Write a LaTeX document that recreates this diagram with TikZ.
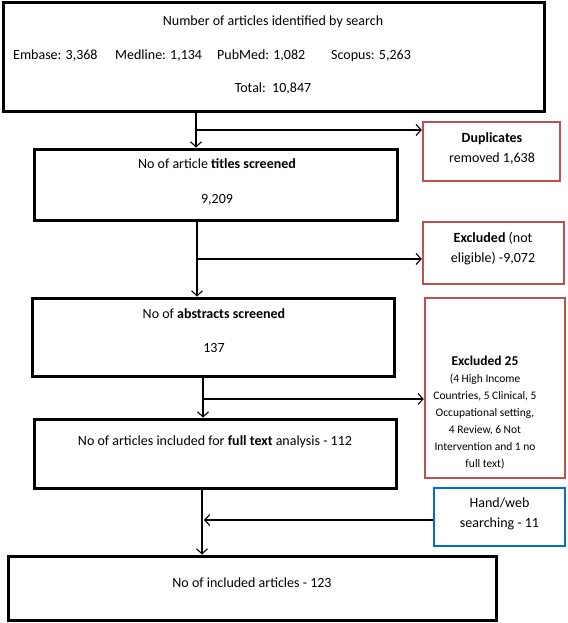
\documentclass[tikz,border=0pt]{standalone}
\usepackage{fontspec}
\setmainfont{Carlito}
\usetikzlibrary{arrows.meta}
\definecolor{exred}{HTML}{C0504D}
\definecolor{exblue}{HTML}{0070C0}
\tikzset{
  blackbox/.style={draw=black, line width=3pt, inner sep=0pt},
  redbox/.style={draw=exred, line width=2.5pt, inner sep=0pt},
  bluebox/.style={draw=exblue, line width=2.5pt, inner sep=0pt},
  txt/.style={align=center, inner sep=0pt},
  flow/.style={line width=1.1pt},
  flowarrow/.style={flow, -{Straight Barb[length=5pt,width=11pt]}}
}
\begin{document}
\begin{tikzpicture}[x=1pt, y=-1pt, font=\fontsize{14}{20}\selectfont]
\useasboundingbox (0,0) rectangle (567,623);
\node[blackbox, minimum width=541pt, minimum height=109pt] (search) at (273.5,57.5) {};
\node[txt] (search-title) at (273,22) {Number of articles identified by search};
\node[txt, anchor=west] (embase) at (13,56) {Embase: 3,368};
\node[txt, anchor=west] (medline) at (115,56) {Medline: 1,134};
\node[txt, anchor=west] (pubmed) at (217,56) {PubMed: 1,082};
\node[txt, anchor=west] (scopus) at (331,56) {Scopus: 5,263};
\node[txt] (total) at (273,89) {Total:\ \ 10,847};
\node[redbox, minimum width=137pt, minimum height=59pt] (dup) at (491.5,151.5) {};
\node[txt] (dup-t) at (492,148) {\textbf{Duplicates}\\removed 1,638};
\node[blackbox, minimum width=363pt, minimum height=71pt] (titles) at (215.5,184.5) {};
\node[txt] (titles-t) at (217,182) {No of article \textbf{titles screened}\\[15pt]9,209};
\node[redbox, minimum width=141pt, minimum height=62pt] (excl1) at (493.5,253) {};
\node[txt] (excl1-t) at (493,249) {\textbf{Excluded} (not\\eligible) -9,072};
\node[blackbox, minimum width=362pt, minimum height=78pt] (abstracts) at (213,337) {};
\node[txt] (abstracts-t) at (214,331) {No of \textbf{abstracts screened}\\[14pt]137};
\node[redbox, minimum width=140pt, minimum height=180pt] (excl2) at (495,388) {};
\node[txt, font=\fontsize{11.5}{17}\selectfont] (excl2-t) at (485,413) {{\fontsize{13.5}{17}\selectfont\bfseries Excluded 25}\\(4 High Income\\Countries, 5 Clinical, 5\\Occupational setting,\\4 Review, 6 Not\\Intervention and 1 no\\full text)};
\node[blackbox, minimum width=362pt, minimum height=69pt] (fulltext) at (215,453.5) {};
\node[txt] (fulltext-t) at (215,442) {No of articles included for \textbf{full text} analysis - 112};
\node[bluebox, minimum width=131pt, minimum height=58pt] (hand) at (499.5,517) {};
\node[txt] (hand-t) at (499.5,514) {Hand/web\\searching - 11};
\node[blackbox, minimum width=488pt, minimum height=64pt] (included) at (252,588) {};
\node[txt] (included-t) at (252,583) {No of included articles - 123};
\coordinate (j1) at (196,130);
\coordinate (j2) at (197,259);
\coordinate (j3) at (203,399);
\coordinate (j4) at (202,520);
\draw[flow] (search.south -| j1) -- (j1);
\draw[flowarrow] (j1) -- (titles.north -| j1);
\draw[flowarrow] (j1) -- (j1 -| dup.west);
\draw[flow] (titles.south -| j2) -- (j2);
\draw[flowarrow] (j2) -- (abstracts.north -| j2);
\draw[flowarrow] (j2) -- (j2 -| excl1.west);
\draw[flow] (abstracts.south -| j3) -- (j3);
\draw[flowarrow] (j3) -- (fulltext.north -| j3);
\draw[flowarrow] (j3) -- (j3 -| excl2.west);
\draw[flowarrow] (fulltext.south -| j4) -- (included.north -| j4);
\draw[flowarrow, shorten >=2pt] (hand.west |- j4) -- (j4);
\end{tikzpicture}
\end{document}
